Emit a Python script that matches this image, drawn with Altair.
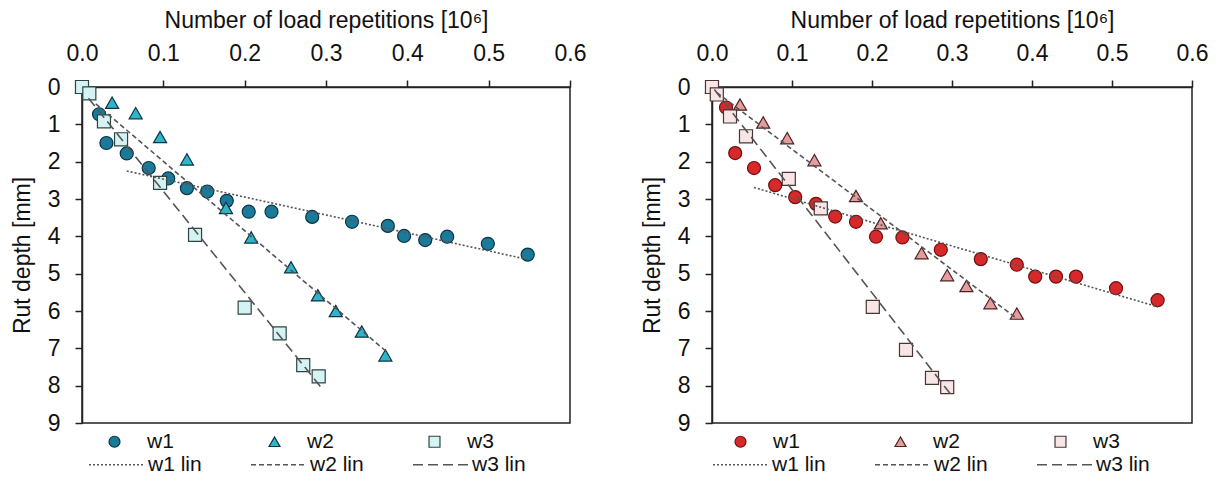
import altair as alt
import pandas as pd

# ---------------- data ----------------
# Left panel
L_w1_x = [0.0, 0.021, 0.030, 0.055, 0.082, 0.106, 0.129, 0.154, 0.178, 0.205, 0.233, 0.283, 0.332, 0.376, 0.396, 0.422, 0.449, 0.499, 0.548]
L_w1_y = [0.0, 0.73, 1.50, 1.78, 2.17, 2.45, 2.71, 2.80, 3.05, 3.34, 3.34, 3.48, 3.61, 3.72, 3.99, 4.10, 4.01, 4.20, 4.49]
L_w2_x = [0.0, 0.037, 0.066, 0.096, 0.129, 0.177, 0.208, 0.257, 0.290, 0.312, 0.344, 0.373]
L_w2_y = [0.0, 0.42, 0.70, 1.34, 1.94, 3.24, 4.03, 4.83, 5.58, 6.00, 6.55, 7.19]
L_w3_x = [0.0, 0.009, 0.027, 0.048, 0.096, 0.139, 0.200, 0.243, 0.272, 0.291]
L_w3_y = [0.0, 0.17, 0.92, 1.40, 2.57, 3.96, 5.91, 6.60, 7.45, 7.75]
# trend lines: start / end points
L_lin_x = {"w1 lin": [0.055, 0.548], "w2 lin": [0.017, 0.375], "w3 lin": [0.008, 0.293]}
L_lin_y = {"w1 lin": [2.25, 4.62], "w2 lin": [0.45, 7.10], "w3 lin": [0.30, 8.02]}

# Right panel
R_w1_x = [0.0, 0.0175, 0.029, 0.0525, 0.079, 0.104, 0.130, 0.154, 0.180, 0.205, 0.238, 0.286, 0.336, 0.381, 0.404, 0.430, 0.455, 0.505, 0.557]
R_w1_y = [0.0, 0.55, 1.77, 2.17, 2.63, 2.95, 3.13, 3.47, 3.61, 4.01, 4.03, 4.36, 4.61, 4.76, 5.08, 5.08, 5.08, 5.39, 5.71]
R_w2_x = [0.0, 0.035, 0.064, 0.094, 0.128, 0.180, 0.211, 0.262, 0.294, 0.318, 0.348, 0.381]
R_w2_y = [0.0, 0.47, 0.95, 1.37, 1.96, 2.92, 3.65, 4.45, 5.04, 5.33, 5.79, 6.07]
R_w3_x = [0.0, 0.006, 0.0225, 0.0425, 0.096, 0.136, 0.201, 0.2425, 0.275, 0.294]
R_w3_y = [0.0, 0.20, 0.79, 1.32, 2.46, 3.25, 5.89, 7.04, 7.79, 8.04]
R_lin_x = {"w1 lin": [0.0525, 0.5575], "w2 lin": [0.006, 0.381], "w3 lin": [0.003, 0.299]}
R_lin_y = {"w1 lin": [2.69, 5.89], "w2 lin": [0.15, 6.20], "w3 lin": [0.07, 8.25]}

series = ["w1", "w2", "w3"]
lin_names = ["w1 lin", "w2 lin", "w3 lin"]
x_ticks = [0.0, 0.1, 0.2, 0.3, 0.4, 0.5, 0.6]
y_ticks = [0, 1, 2, 3, 4, 5, 6, 7, 8, 9]

L_fill = ["#1b7a9a", "#2db6c9", "#d6f3f3"]
L_stroke = ["#0b3442", "#0b3442", "#2c4444"]
R_fill = ["#d8292a", "#e59c9c", "#f8e6e6"]
R_stroke = ["#6e1010", "#4a2222", "#4a3434"]
shapes = ["circle", "triangle-up", "square"]
dashes = [[2, 2], [5, 3], [10, 5]]

FONT = "Liberation Sans"
FS = 23
LFS = 21


def pts_df(xs, ys):
    rows = []
    for s, x, y in zip(series, xs, ys):
        for a, b in zip(x, y):
            rows.append({"series": s, "x": a, "y": b})
    return pd.DataFrame(rows)


def lin_df(lx, ly):
    rows = []
    for n in lin_names:
        for a, b in zip(lx[n], ly[n]):
            rows.append({"lin": n, "x": a, "y": b})
    return pd.DataFrame(rows)


def panel(pdf, ldf, fills, strokes, w, lx0, px0):
    xenc = alt.X("x:Q", scale=alt.Scale(domain=[0, 0.6], nice=False, zero=False),
                 axis=alt.Axis(orient="top", values=x_ticks, format=".1f", labelFlush=False,
                               title="Number of load repetitions [10⁶]"))
    yenc = alt.Y("y:Q", scale=alt.Scale(domain=[0, 9], reverse=True, nice=False),
                 axis=alt.Axis(values=y_ticks, format="d", labelFlush=False, title="Rut depth [mm]"))
    lines = alt.Chart(ldf).mark_line(color="#555555", strokeWidth=1.6).encode(
        x=xenc, y=yenc,
        strokeDash=alt.StrokeDash("lin:N", title=None,
                                  scale=alt.Scale(domain=lin_names, range=dashes),
                                  legend=alt.Legend(orient="none", legendX=lx0, legendY=349,
                                                    direction="horizontal", columns=3,
                                                    symbolType="stroke", symbolSize=3025,
                                                    symbolStrokeWidth=1.6, symbolStrokeColor="#555555",
                                                    labelOffset=3, columnPadding=45, padding=0,
                                                    labelFontSize=LFS, labelFont=FONT, labelColor="#111111")),
        detail="lin:N",
    )
    leg = alt.Legend(orient="none", legendX=px0, legendY=344, direction="horizontal", columns=3,
                     symbolSize=120, labelOffset=22, columnPadding=90, padding=0,
                     labelFontSize=LFS, labelFont=FONT, labelColor="#111111", symbolStrokeWidth=1.2)
    points = alt.Chart(pdf).mark_point(filled=True, size=170, strokeWidth=1.2, opacity=1).encode(
        x=xenc, y=yenc,
        shape=alt.Shape("series:N", title=None, scale=alt.Scale(domain=series, range=shapes), legend=leg),
        fill=alt.Fill("series:N", title=None, scale=alt.Scale(domain=series, range=fills), legend=leg),
        stroke=alt.Stroke("series:N", title=None, scale=alt.Scale(domain=series, range=strokes), legend=leg),
    )
    return alt.layer(points, lines).properties(width=w, height=336).resolve_scale(
        fill="independent", stroke="independent", shape="independent", strokeDash="independent")


left = panel(pts_df([L_w1_x, L_w2_x, L_w3_x], [L_w1_y, L_w2_y, L_w3_y]),
             lin_df(L_lin_x, L_lin_y), L_fill, L_stroke, 488, 6, 22)
right = panel(pts_df([R_w1_x, R_w2_x, R_w3_x], [R_w1_y, R_w2_y, R_w3_y]),
              lin_df(R_lin_x, R_lin_y), R_fill, R_stroke, 480, 0, 18)

chart = alt.hconcat(left, right, spacing=53).resolve_scale(
    fill="independent", stroke="independent", shape="independent", strokeDash="independent",
    x="independent", y="independent"
).properties(
    padding={"left": 10, "top": 8, "right": 0, "bottom": 0},
    background="white"
).configure_view(
    stroke="#222222", strokeWidth=1.5
).configure_axis(
    labelFont=FONT, titleFont=FONT, labelFontSize=FS, titleFontSize=FS,
    titleFontWeight="normal", labelColor="#111111", titleColor="#111111",
    domainColor="#222222", tickColor="#222222", domainWidth=1.5, tickWidth=1.5,
    tickSize=7, grid=False
).configure_axisX(
    labelPadding=15, titlePadding=10
).configure_axisY(
    labelPadding=15, titlePadding=13
)

chart.save("out.html", embed_options={"renderer": "svg", "actions": False})
